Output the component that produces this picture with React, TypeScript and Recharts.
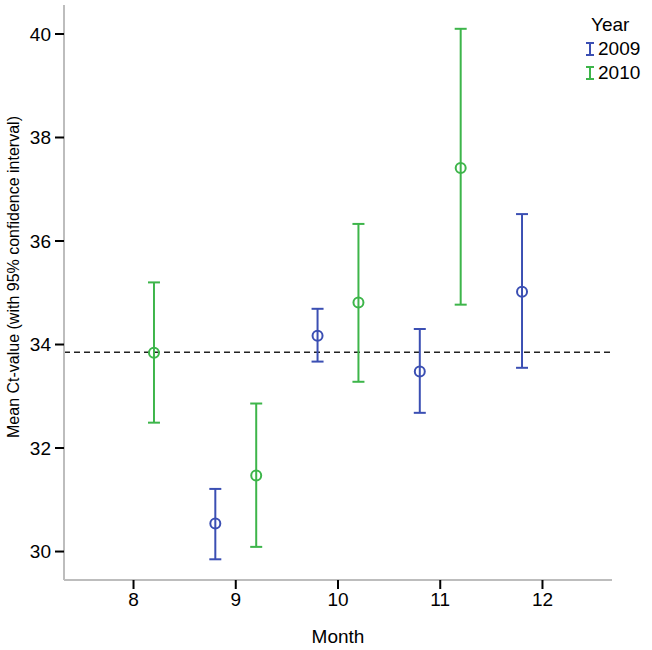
import React from 'react';
import { ComposedChart, Scatter, ErrorBar, XAxis, YAxis, ReferenceLine } from 'recharts';

const months2009 = [9, 10, 11, 12];
const mean2009 = [30.54, 34.17, 33.48, 35.02];
const lower2009 = [29.85, 33.67, 32.68, 33.55];
const upper2009 = [31.21, 34.69, 34.3, 36.52];

const months2010 = [8, 9, 10, 11];
const mean2010 = [33.84, 31.47, 34.81, 37.41];
const lower2010 = [32.49, 30.09, 33.28, 34.77];
const upper2010 = [35.2, 32.86, 36.33, 40.1];

const overallMean = 33.85;
const monthTicks = [8, 9, 10, 11, 12];
const ctTicks = [30, 32, 34, 36, 38, 40];
const years = ['2009', '2010'];

const BLUE = '#3B4FB3';
const GREEN = '#3DB54A';
const FONT = '"Liberation Sans", Arial, sans-serif';

const build = (months: number[], mean: number[], lo: number[], hi: number[], off: number) =>
  months.map((m, i) => ({ x: m + off, y: mean[i], err: [mean[i] - lo[i], hi[i] - mean[i]] }));

const data2009 = build(months2009, mean2009, lower2009, upper2009, -0.2);
const data2010 = build(months2010, mean2010, lower2010, upper2010, 0.2);

const ringShape = (color: string) => (p: any) => (
  <circle cx={p.cx} cy={p.cy} r={5} fill="none" stroke={color} strokeWidth={2} />
);

const YLabel = () => (
  <text
    x={0}
    y={0}
    transform="translate(19, 277) rotate(-90)"
    textAnchor="middle"
    fill="#000"
    fontSize={16}
    fontFamily={FONT}
  >
    Mean Ct-value (with 95% confidence interval)
  </text>
);

const LegendBox = () => (
  <div
    style={{
      position: 'absolute',
      left: 584,
      top: 13,
      fontFamily: FONT,
      fontSize: 19,
      color: '#000',
      lineHeight: '24px',
    }}
  >
    <div style={{ paddingLeft: 7 }}>Year</div>
    {years.map((y, i) => (
      <div key={y} style={{ display: 'flex', alignItems: 'center' }}>
        <svg width={11} height={16} style={{ marginRight: 3 }}>
          <g stroke={i === 0 ? BLUE : GREEN} strokeWidth={2}>
            <line x1={6} y1={2} x2={6} y2={14} />
            <line x1={2} y1={2} x2={10} y2={2} />
            <line x1={2} y1={14} x2={10} y2={14} />
          </g>
        </svg>
        <span>{y}</span>
      </div>
    ))}
  </div>
);

export default function App() {
  return (
    <div style={{ position: 'absolute', left: 0, top: 0, width: 652, height: 650, background: '#fff' }}>
      <ComposedChart width={652} height={650} margin={{ top: 5, right: 40, bottom: 0, left: 0 }}>
        <XAxis
          type="number"
          dataKey="x"
          domain={[7.32, 12.68]}
          ticks={monthTicks}
          allowDataOverflow
          height={70}
          axisLine={{ stroke: '#bdbdbd', strokeWidth: 2 }}
          tickLine={{ stroke: '#000', strokeWidth: 2 }}
          tickSize={9}
          tickMargin={4}
          tick={{ fill: '#000', fontSize: 19, fontFamily: FONT }}
          label={{ value: 'Month', position: 'insideBottom', offset: 7, fill: '#000', fontSize: 19, fontFamily: FONT }}
        />
        <YAxis
          type="number"
          dataKey="y"
          domain={[29.45, 40.56]}
          ticks={ctTicks}
          allowDataOverflow
          width={64}
          axisLine={{ stroke: '#bdbdbd', strokeWidth: 2 }}
          tickLine={{ stroke: '#000', strokeWidth: 2 }}
          tickSize={9}
          tickMargin={4}
          tick={{ fill: '#000', fontSize: 19, fontFamily: FONT }}
          label={<YLabel />}
        />
        <ReferenceLine y={overallMean} stroke="#222" strokeWidth={1.5} strokeDasharray="6 4" />
        <Scatter name="2009" data={data2009} shape={ringShape(BLUE)} isAnimationActive={false}>
          <ErrorBar dataKey="err" direction="y" width={6} stroke={BLUE} strokeWidth={2} />
        </Scatter>
        <Scatter name="2010" data={data2010} shape={ringShape(GREEN)} isAnimationActive={false}>
          <ErrorBar dataKey="err" direction="y" width={6} stroke={GREEN} strokeWidth={2} />
        </Scatter>
      </ComposedChart>
      <LegendBox />
    </div>
  );
}
